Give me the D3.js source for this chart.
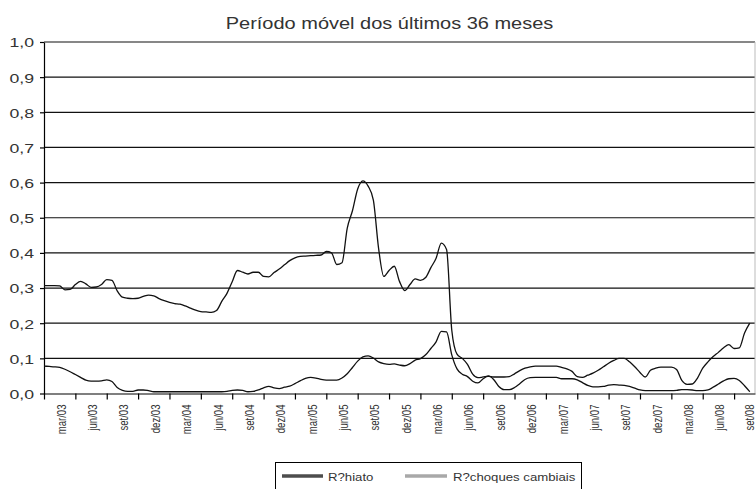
<!DOCTYPE html>
<html><head><meta charset="utf-8">
<script src="https://cdn.jsdelivr.net/npm/d3@7"></script>
<style>body{margin:0;background:#fff} svg{display:block}</style>
</head><body>
<svg id="c" width="756" height="489"></svg>
<script>
// ---- data ----
const quarterLabels = ["mar/03","jun/03","set/03","dez/03","mar/04","jun/04","set/04","dez/04","mar/05","jun/05","set/05","dez/05","mar/06","jun/06","set/06","dez/06","mar/07","jun/07","set/07","dez/07","mar/08","jun/08","set/08"];
const yTicks = [0,0.1,0.2,0.3,0.4,0.5,0.6,0.7,0.8,0.9,1.0];
const stepMonths = 0.5; // observations every half month, starting at mar/03
const rHiato = [
0.307,0.307,0.307,0.306,0.295,0.296,0.310,0.319,0.312,0.302,
0.303,0.310,0.324,0.322,0.292,0.274,0.271,0.270,0.271,0.276,
0.280,0.278,0.270,0.264,0.259,0.256,0.254,0.249,0.243,0.237,
0.233,0.232,0.231,0.236,0.262,0.285,0.318,0.350,0.345,0.340,
0.345,0.345,0.333,0.332,0.344,0.354,0.366,0.378,0.386,0.390,
0.391,0.392,0.393,0.394,0.404,0.400,0.367,0.372,0.470,0.520,
0.582,0.605,0.590,0.550,0.413,0.333,0.350,0.362,0.319,0.293,
0.310,0.326,0.322,0.330,0.358,0.385,0.428,0.410,0.180,0.112,
0.100,0.083,0.055,0.045,0.047,0.049,0.047,0.047,0.047,0.048,
0.056,0.065,0.072,0.076,0.078,0.078,0.078,0.078,0.078,0.074,
0.070,0.063,0.048,0.046,0.052,0.058,0.066,0.076,0.086,0.094,
0.100,0.100,0.090,0.076,0.060,0.047,0.066,0.072,0.075,0.075,
0.075,0.068,0.037,0.026,0.027,0.044,0.072,0.090,0.105,0.117,
0.130,0.139,0.128,0.130,0.172,0.200];
const rChoques = [
0.078,0.077,0.076,0.074,0.069,0.062,0.054,0.046,0.038,0.035,
0.035,0.036,0.039,0.034,0.017,0.009,0.006,0.006,0.010,0.010,
0.008,0.005,0.005,0.005,0.005,0.005,0.005,0.005,0.005,0.005,
0.005,0.005,0.005,0.005,0.005,0.006,0.009,0.010,0.009,0.005,
0.006,0.010,0.016,0.020,0.016,0.014,0.018,0.021,0.028,0.036,
0.043,0.046,0.044,0.040,0.038,0.038,0.038,0.044,0.056,0.074,
0.092,0.104,0.107,0.101,0.090,0.085,0.083,0.084,0.081,0.079,
0.085,0.095,0.099,0.110,0.128,0.147,0.177,0.175,0.110,0.070,
0.055,0.048,0.035,0.030,0.042,0.050,0.040,0.020,0.011,0.011,
0.017,0.028,0.040,0.045,0.046,0.046,0.046,0.046,0.046,0.042,
0.042,0.042,0.039,0.031,0.023,0.019,0.019,0.020,0.024,0.025,
0.024,0.023,0.020,0.015,0.010,0.008,0.008,0.008,0.008,0.008,
0.008,0.009,0.011,0.011,0.010,0.008,0.008,0.010,0.018,0.027,
0.036,0.042,0.043,0.037,0.022,0.005];
const seriesNames = ["R?hiato","R?choques cambiais"];
const titleText = "Período móvel dos últimos 36 meses";

// ---- chart ----
const FONT = "'Liberation Sans', Arial, Helvetica, sans-serif";
const TXT = "#333";
const svg = d3.select("#c");
const L = 44, R = 755, T = 42, B = 393.5;
const nMonths = quarterLabels.length * 3 - 1; // 68 monthly categories
const x = d3.scaleLinear().domain([0, nMonths]).range([L, R]);
const y = d3.scaleLinear().domain([0, 1]).range([B, T]);

// gridlines
svg.append("g").selectAll("line").data(yTicks.filter(d => d > 0)).join("line")
  .attr("x1", L).attr("x2", R).attr("y1", d => y(d)).attr("y2", d => y(d))
  .attr("stroke", "#111").attr("stroke-width", 1.2);
// right border
svg.append("line").attr("x1", R).attr("x2", R).attr("y1", T).attr("y2", B)
  .attr("stroke", "#bbb").attr("stroke-width", 1);

// y axis
const fmt = d => d3.format(".1f")(d).replace(".", ",");
const gy = svg.append("g").attr("transform", `translate(${L},0)`)
  .call(d3.axisLeft(y).tickValues(yTicks).tickSize(4).tickSizeOuter(0).tickFormat(fmt));
gy.select(".domain").attr("stroke", "#000").attr("stroke-width", 1.2);
gy.selectAll(".tick line").attr("stroke", "#000").attr("stroke-width", 1.2);
gy.selectAll(".tick text")
  .attr("x", null).attr("dy", "0.36em")
  .attr("transform", "translate(-10,0) scale(1.3,1)")
  .attr("font-family", FONT).attr("font-size", 13.6).attr("fill", TXT);

// x axis: ticks every quarter, labels centered in each quarter
const tickPos = d3.range(0, quarterLabels.length).map(i => i * 3);
const gx = svg.append("g").attr("transform", `translate(0,${B})`)
  .call(d3.axisBottom(x).tickValues(tickPos).tickSize(6).tickSizeOuter(0).tickFormat(""));
gx.select(".domain").attr("stroke", "#000").attr("stroke-width", 1.2);
gx.selectAll(".tick line").attr("stroke", "#000").attr("stroke-width", 1.2);

const labPos = quarterLabels.map((d, i) => i * 3 + 1.5);
const gxl = svg.append("g").attr("transform", `translate(0,${B})`)
  .call(d3.axisBottom(x).tickValues(labPos).tickSize(0).tickFormat((d, i) => quarterLabels[i]));
gxl.select(".domain").remove();
gxl.selectAll(".tick text")
  .attr("y", null).attr("dy", null)
  .attr("text-anchor", "end")
  .attr("transform", (d, i) => `translate(${i === quarterLabels.length - 1 ? 3.6 : 5.5},11) scale(1.4,1) rotate(-90)`)
  .attr("font-family", FONT).attr("font-size", 9.6).attr("fill", TXT);

// lines
const line = d3.line().x((d, i) => x(i * stepMonths)).y(d => y(d)).curve(d3.curveMonotoneX);
svg.append("path").datum(rHiato).attr("d", line)
  .attr("fill", "none").attr("stroke", "#111").attr("stroke-width", 1.3);
svg.append("path").datum(rChoques).attr("d", line)
  .attr("fill", "none").attr("stroke", "#111").attr("stroke-width", 1.3);

// title
svg.append("text").attr("transform", "translate(389.5,29) scale(1.19,1)")
  .attr("text-anchor", "middle").attr("font-family", FONT).attr("font-size", 16.8)
  .attr("fill", TXT).text(titleText);

// legend
const lg = svg.append("g");
lg.append("rect").attr("x", 275.5).attr("y", 462.5).attr("width", 306).attr("height", 32)
  .attr("fill", "#fff").attr("stroke", "#000").attr("stroke-width", 1);
const legItems = [
  {name: seriesNames[0], color: "#4d4d4d", x0: 282, x1: 323, tx: 328},
  {name: seriesNames[1], color: "#a8a8a8", x0: 405, x1: 447, tx: 453}
];
legItems.forEach(it => {
  lg.append("line").attr("x1", it.x0).attr("x2", it.x1).attr("y1", 476).attr("y2", 476)
    .attr("stroke", it.color).attr("stroke-width", 3.5);
  lg.append("text").attr("transform", `translate(${it.tx},480.5) scale(1.2,1)`)
    .attr("font-family", FONT).attr("font-size", 11).attr("fill", TXT).text(it.name);
});
</script>
</body></html>
